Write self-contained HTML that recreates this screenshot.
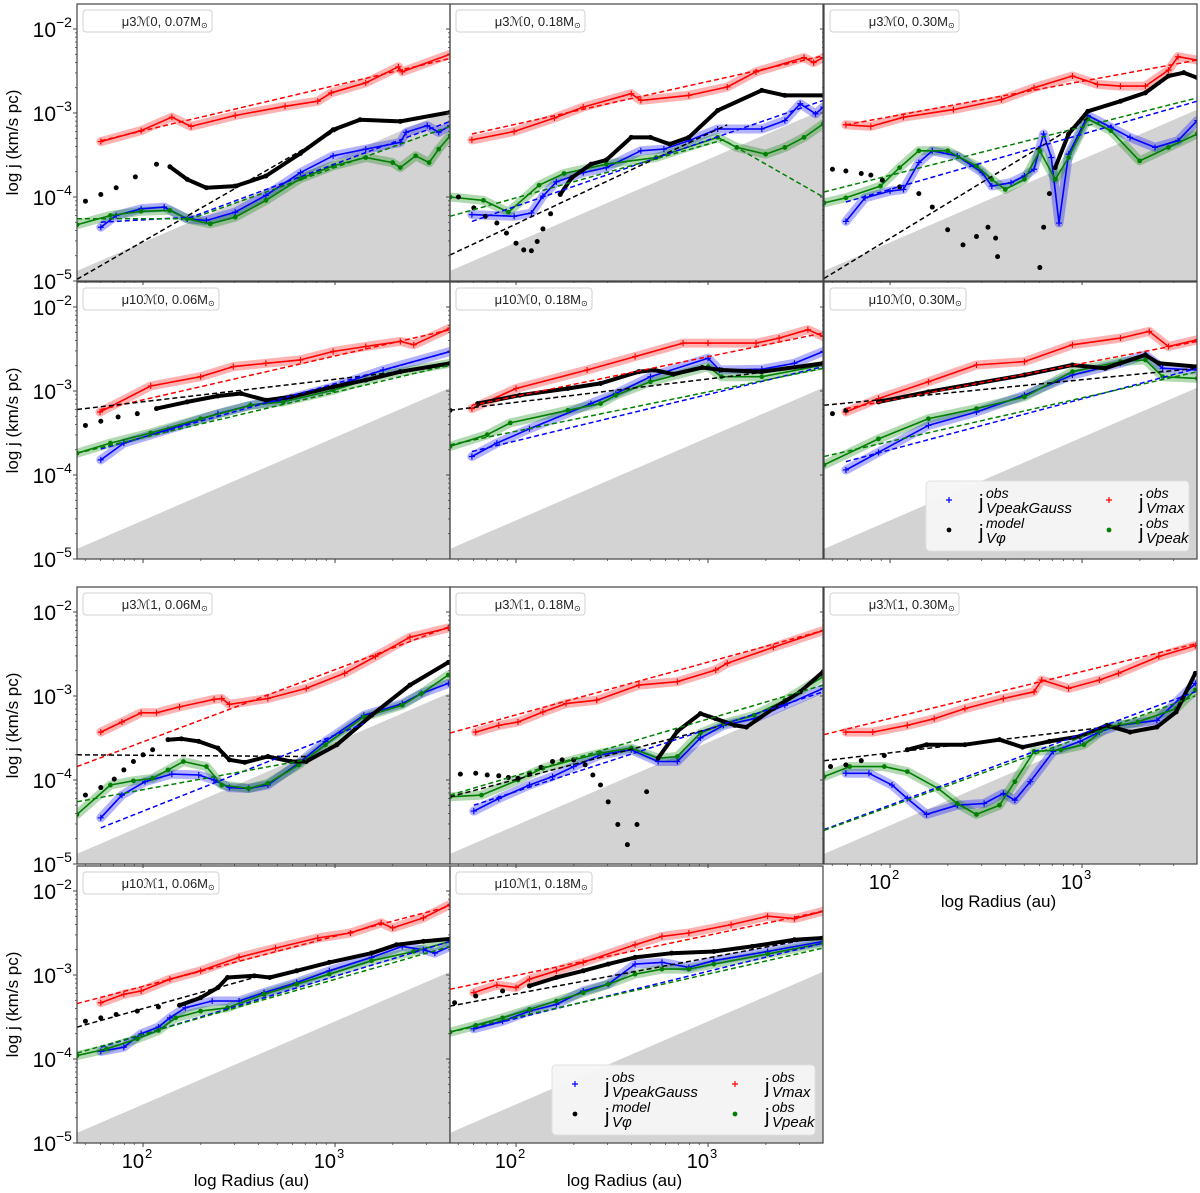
<!DOCTYPE html>
<html><head><meta charset="utf-8"><title>Specific angular momentum profiles</title>
<style>
html,body{margin:0;padding:0;background:#fff;}
svg{display:block;font-family:"Liberation Sans",sans-serif;}
</style></head>
<body>
<svg id="fig" width="1200" height="1193" viewBox="0 0 1200 1193" xmlns="http://www.w3.org/2000/svg"></svg>
<script>
// ---------- data (log10 radius [au], log10 j [km/s pc]) ----------
const grayR=[1.656,3.60];
const grayJ=[-4.88,-2.96];
const yTicks=[-5,-4,-3,-2];
const yTickLabels=["\u22125","\u22124","\u22123","\u22122"];
const xTicks=[2,3];
const xTickLabels=["2","3"];
const panelTitles=["\u03bc3\u21330, 0.07M","\u03bc3\u21330, 0.18M","\u03bc3\u21330, 0.30M","\u03bc10\u21330, 0.06M","\u03bc10\u21330, 0.18M","\u03bc10\u21330, 0.30M","\u03bc3\u21331, 0.06M","\u03bc3\u21331, 0.18M","\u03bc3\u21331, 0.30M","\u03bc10\u21331, 0.06M","\u03bc10\u21331, 0.18M"];

// panel 1
const p1RedR=[1.78,1.99,2.15,2.25,2.48,2.74,2.91,2.98,3.16,3.33,3.35,3.60];
const p1RedJ=[-3.34,-3.21,-3.05,-3.16,-3.03,-2.92,-2.86,-2.76,-2.64,-2.45,-2.51,-2.30];
const p1BlackR=[1.70,1.78,1.86,1.96,2.07,2.14,2.23,2.33,2.48,2.64,2.82,2.99,3.13,3.34,3.60];
const p1BlackJ=[-4.05,-3.97,-3.89,-3.76,-3.61,-3.64,-3.79,-3.89,-3.87,-3.75,-3.48,-3.20,-3.08,-3.10,-2.99];
const p1BlueR=[1.78,1.86,1.99,2.11,2.23,2.33,2.48,2.64,2.82,2.99,3.16,3.34,3.37,3.48,3.54,3.60];
const p1BlueJ=[-4.36,-4.22,-4.14,-4.12,-4.26,-4.28,-4.18,-3.98,-3.71,-3.51,-3.43,-3.35,-3.23,-3.15,-3.23,-3.15];
const p1GreenR=[1.656,1.83,1.99,2.14,2.23,2.35,2.48,2.64,2.82,2.99,3.16,3.30,3.34,3.42,3.49,3.54,3.60];
const p1GreenJ=[-4.33,-4.22,-4.17,-4.16,-4.26,-4.32,-4.24,-4.04,-3.78,-3.63,-3.53,-3.59,-3.65,-3.51,-3.59,-3.43,-3.27];
const p1FitRedR=[1.78,3.60], p1FitRedJ=[-3.33,-2.35];
const p1FitBlackR=[1.656,3.05], p1FitBlackJ=[-4.98,-3.15];
const p1FitBlueR=[1.78,2.25,3.60], p1FitBlueJ=[-4.30,-4.24,-3.10];
const p1FitGreenR=[1.656,2.25,3.60], p1FitGreenJ=[-4.26,-4.26,-3.16];

// panel 2
const p2RedR=[1.77,1.99,2.20,2.35,2.60,2.65,2.90,3.10,3.25,3.50,3.55,3.60];
const p2RedJ=[-3.32,-3.22,-3.06,-2.93,-2.77,-2.85,-2.79,-2.69,-2.51,-2.34,-2.40,-2.34];
const p2BlackR=[1.70,1.78,1.84,1.90,1.95,2.0,2.04,2.08,2.11,2.14,2.18,2.23,2.29,2.39,2.47,2.60,2.70,2.80,2.90,3.05,3.28,3.40,3.60];
const p2BlackJ=[-4.0,-4.13,-4.23,-4.31,-4.43,-4.55,-4.63,-4.64,-4.53,-4.38,-4.20,-3.97,-3.77,-3.61,-3.56,-3.29,-3.29,-3.37,-3.29,-2.97,-2.73,-2.79,-2.79];
const p2BlueR=[1.77,1.99,2.08,2.14,2.21,2.35,2.47,2.65,2.77,2.90,3.05,3.28,3.40,3.48,3.56,3.60];
const p2BlueJ=[-4.21,-4.23,-4.19,-3.99,-3.82,-3.71,-3.65,-3.45,-3.43,-3.33,-3.19,-3.19,-3.09,-2.89,-3.01,-2.93];
const p2GreenR=[1.656,1.83,1.96,2.12,2.25,2.47,2.73,3.05,3.15,3.30,3.40,3.50,3.60];
const p2GreenJ=[-4.0,-4.04,-4.18,-3.86,-3.72,-3.61,-3.53,-3.29,-3.41,-3.49,-3.41,-3.29,-3.13];
const p2FitRedR=[1.77,3.60], p2FitRedJ=[-3.25,-2.32];
const p2FitBlackR=[1.656,3.10], p2FitBlackJ=[-4.69,-3.14];
const p2FitBlueR=[1.77,3.60], p2FitBlueJ=[-4.29,-2.85];
const p2FitGreenR=[1.656,3.08,3.60], p2FitGreenJ=[-4.23,-3.32,-4.0];

// panel 3
const p3RedR=[1.77,1.90,2.07,2.33,2.58,2.75,2.95,3.08,3.20,3.33,3.45,3.50,3.60];
const p3RedJ=[-3.14,-3.16,-3.05,-2.96,-2.84,-2.70,-2.56,-2.66,-2.68,-2.68,-2.49,-2.33,-2.37];
const p3BlackR=[1.70,1.77,1.85,1.90,1.96,2.05,2.15,2.22,2.30,2.38,2.45,2.51,2.55,2.56,2.67,2.78,2.80,2.83,2.86,2.93,3.03,3.20,3.33,3.45,3.53,3.60];
const p3BlackJ=[-3.67,-3.69,-3.72,-3.74,-3.80,-3.88,-3.96,-4.12,-4.39,-4.57,-4.47,-4.36,-4.49,-4.71,null,-4.84,-4.36,-3.96,-3.65,-3.25,-2.98,-2.86,-2.76,-2.56,-2.52,-2.58];
const p3BlueR=[1.77,1.87,2.0,2.07,2.15,2.22,2.35,2.48,2.53,2.63,2.70,2.75,2.80,2.84,2.88,2.93,3.03,3.15,3.25,3.38,3.50,3.60];
const p3BlueJ=[-4.29,-4.01,-3.93,-3.91,-3.59,-3.45,-3.51,-3.71,-3.87,-3.83,-3.75,-3.67,-3.25,-3.53,-4.31,-3.49,-3.03,-3.17,-3.29,-3.41,-3.33,-3.09];
const p3GreenR=[1.656,1.77,1.95,2.05,2.15,2.30,2.45,2.53,2.60,2.70,2.78,2.86,2.93,3.03,3.15,3.30,3.45,3.60];
const p3GreenJ=[-4.07,-4.01,-3.87,-3.65,-3.45,-3.45,-3.63,-3.79,-3.91,-3.79,-3.45,-3.79,-3.53,-3.07,-3.21,-3.57,-3.41,-3.25];
const p3FitRedR=[1.77,3.60], p3FitRedJ=[-3.14,-2.37];
const p3FitBlackR=[1.656,3.03], p3FitBlackJ=[-4.97,-3.06];
const p3FitBlueR=[1.77,3.60], p3FitBlueJ=[-4.06,-2.86];
const p3FitGreenR=[1.656,3.60], p3FitGreenJ=[-3.94,-2.82];

// panel 4
const p4RedR=[1.776,2.04,2.30,2.47,2.64,2.82,2.99,3.16,3.34,3.41,3.60];
const p4RedJ=[-3.25,-2.94,-2.83,-2.71,-2.67,-2.63,-2.53,-2.47,-2.41,-2.45,-2.25];
const p4BlackR=[1.70,1.78,1.87,1.97,2.07,2.23,2.39,2.51,2.64,2.77,2.99,3.16,3.34,3.60];
const p4BlackJ=[-3.41,-3.36,-3.31,-3.27,-3.21,-3.13,-3.06,-3.03,-3.11,-3.07,-2.95,-2.87,-2.77,-2.67];
const p4BlueR=[1.78,1.90,2.13,2.39,2.56,2.73,2.99,3.25,3.60];
const p4BlueJ=[-3.82,-3.62,-3.46,-3.27,-3.17,-3.11,-2.95,-2.75,-2.53];
const p4GreenR=[1.656,1.83,2.04,2.30,2.56,2.73,2.99,3.25,3.60];
const p4GreenJ=[-3.74,-3.62,-3.50,-3.33,-3.17,-3.13,-2.99,-2.81,-2.67];
const p4FitRedR=[1.78,3.60], p4FitRedJ=[-3.22,-2.27];
const p4FitBlackR=[1.656,3.60], p4FitBlackJ=[-3.22,-2.70];
const p4FitBlueR=[1.78,3.60], p4FitBlueJ=[-3.69,-2.53];
const p4FitGreenR=[1.656,3.60], p4FitGreenJ=[-3.74,-2.69];

// panel 5
const p5RedR=[1.77,2.0,2.37,2.62,2.87,3.0,3.25,3.37,3.52,3.60];
const p5RedJ=[-3.21,-2.97,-2.75,-2.59,-2.43,-2.43,-2.43,-2.37,-2.27,-2.35];
const p5BlackR=[1.656,1.80,2.02,2.27,2.44,2.64,2.72,2.82,2.97,3.07,3.28,3.60];
const p5BlackJ=[-3.23,-3.15,-3.05,-2.97,-2.91,-2.77,-2.75,-2.80,-2.72,-2.75,-2.77,-2.67];
const p5BlueR=[1.77,1.90,2.07,2.39,2.52,2.70,3.0,3.06,3.28,3.45,3.60];
const p5BlueJ=[-3.78,-3.62,-3.45,-3.15,-3.03,-2.83,-2.61,-2.75,-2.74,-2.67,-2.53];
const p5GreenR=[1.656,1.85,1.97,2.27,2.44,2.52,2.70,3.0,3.07,3.28,3.60];
const p5GreenJ=[-3.66,-3.52,-3.38,-3.23,-3.15,-3.05,-2.89,-2.71,-2.83,-2.83,-2.69];
const p5FitRedR=[1.77,3.60], p5FitRedJ=[-3.17,-2.31];
const p5FitBlackR=[1.656,3.60], p5FitBlackJ=[-3.23,-2.69];
const p5FitBlueR=[1.77,3.60], p5FitBlueJ=[-3.72,-2.71];
const p5FitGreenR=[1.656,3.60], p5FitGreenJ=[-3.64,-2.73];

// panel 6
const p6RedR=[1.77,1.94,2.20,2.45,2.70,2.95,3.20,3.35,3.45,3.60];
const p6RedJ=[-3.25,-3.09,-2.89,-2.69,-2.65,-2.45,-2.37,-2.29,-2.47,-2.39];
const p6BlackR=[1.70,1.77,1.94,2.20,2.45,2.70,2.95,3.12,3.33,3.40,3.60];
const p6BlackJ=[-3.27,-3.23,-3.13,-3.01,-2.91,-2.81,-2.69,-2.73,-2.57,-2.67,-2.71];
const p6BlueR=[1.77,1.94,2.20,2.45,2.70,2.95,3.20,3.33,3.42,3.60];
const p6BlueJ=[-3.94,-3.73,-3.41,-3.25,-3.05,-2.81,-2.67,-2.57,-2.73,-2.75];
const p6GreenR=[1.656,1.94,2.20,2.45,2.70,2.95,3.20,3.33,3.42,3.60];
const p6GreenJ=[-3.88,-3.57,-3.33,-3.21,-3.07,-2.77,-2.65,-2.63,-2.83,-2.85];
const p6FitRedR=[1.77,3.60], p6FitRedJ=[-3.21,-2.41];
const p6FitBlackR=[1.656,3.60], p6FitBlackJ=[-3.17,-2.73];
const p6FitBlueR=[1.77,3.60], p6FitBlueJ=[-3.84,-2.73];
const p6FitGreenR=[1.656,3.60], p6FitGreenJ=[-3.78,-2.77];

// panel 7
const p7RedR=[1.78,1.89,1.99,2.07,2.19,2.37,2.41,2.45,2.65,2.85,3.05,3.21,3.39,3.59];
const p7RedJ=[-3.43,-3.31,-3.20,-3.20,-3.13,-3.04,-3.03,-3.10,-3.03,-2.91,-2.73,-2.53,-2.30,-2.19];
const p7BlackR=[1.70,1.78,1.85,1.90,1.95,2.0,2.05,2.13,2.20,2.29,2.39,2.45,2.53,2.65,2.77,2.85,3.01,3.19,3.39,3.59];
const p7BlackJ=[-4.18,-4.09,-3.99,-3.88,-3.78,-3.70,-3.64,-3.52,-3.51,-3.54,-3.62,-3.76,-3.79,-3.72,-3.78,-3.78,-3.58,-3.23,-2.87,-2.60];
const p7BlueR=[1.78,1.89,2.01,2.15,2.29,2.37,2.45,2.55,2.65,2.81,2.95,3.15,3.35,3.45,3.59];
const p7BlueJ=[-4.45,-4.18,-4.02,-3.93,-3.94,-4.0,-4.09,-4.10,-4.06,-3.80,-3.54,-3.23,-3.09,-2.97,-2.85];
const p7GreenR=[1.656,1.83,1.95,2.05,2.13,2.21,2.33,2.41,2.55,2.65,2.81,2.95,3.15,3.35,3.45,3.59];
const p7GreenJ=[-4.41,-4.06,-4.01,-3.98,-3.88,-3.78,-3.84,-4.06,-4.10,-4.04,-3.82,-3.58,-3.25,-3.11,-2.97,-2.75];
const p7FitRedR=[1.656,3.59], p7FitRedJ=[-3.84,-2.18];
const p7FitBlackR=[1.656,2.85], p7FitBlackJ=[-3.70,-3.72];
const p7FitBlueR=[1.78,3.15], p7FitBlueJ=[-4.57,-3.33];
const p7FitGreenR=[1.656,2.85], p7FitGreenJ=[-4.26,-3.76];

// panel 8
const p8RedR=[1.79,1.91,2.01,2.14,2.26,2.42,2.64,2.84,3.04,3.10,3.34,3.60];
const p8RedJ=[-3.43,-3.35,-3.31,-3.19,-3.09,-3.05,-2.87,-2.83,-2.69,-2.61,-2.42,-2.22];
const p8BlackR=[1.71,1.79,1.85,1.91,1.96,2.01,2.07,2.13,2.19,2.24,2.30,2.36,2.40,2.44,2.48,2.53,2.58,2.63,2.68,2.74,2.84,2.96,3.04,3.14,3.20,3.34,3.48,3.60];
const p8BlackJ=[-3.93,-3.92,-3.94,-3.95,-3.97,-3.98,-3.92,-3.85,-3.78,-3.76,-3.76,-3.82,-3.94,-4.06,-4.26,-4.53,-4.77,-4.53,-4.14,-3.74,-3.42,-3.21,-3.27,-3.35,-3.37,-3.15,-2.95,-2.71];
const p8BlueR=[1.78,1.91,2.07,2.19,2.30,2.44,2.60,2.74,2.84,2.96,3.08,3.24,3.40,3.60];
const p8BlueJ=[-4.37,-4.22,-4.06,-3.96,-3.84,-3.70,-3.64,-3.78,-3.78,-3.50,-3.35,-3.27,-3.11,-2.91];
const p8GreenR=[1.656,1.82,2.01,2.14,2.30,2.44,2.60,2.74,2.84,2.96,3.08,3.24,3.40,3.60];
const p8GreenJ=[-4.20,-4.18,-4.0,-3.86,-3.76,-3.68,-3.62,-3.74,-3.72,-3.44,-3.33,-3.23,-3.05,-2.77];
const p8FitRedR=[1.656,3.60], p8FitRedJ=[-3.44,-2.22];
const p8FitBlackR=[1.656,3.04], p8FitBlackJ=[-4.20,-3.37];
const p8FitBlueR=[1.78,3.60], p8FitBlueJ=[-4.30,-2.95];
const p8FitGreenR=[1.656,3.60], p8FitGreenJ=[-4.18,-2.87];

// panel 9
const p9RedR=[1.77,1.91,2.09,2.23,2.39,2.59,2.75,2.79,2.93,3.09,3.19,3.40,3.59];
const p9RedJ=[-3.43,-3.43,-3.35,-3.27,-3.15,-3.03,-2.95,-2.81,-2.91,-2.81,-2.73,-2.53,-2.40];
const p9BlackR=[1.69,1.77,1.85,1.97,2.09,2.19,2.39,2.57,2.69,2.83,2.99,3.13,3.25,3.39,3.49,3.59];
const p9BlackJ=[-3.84,-3.82,-3.77,-3.71,-3.64,-3.58,-3.58,-3.52,-3.61,-3.54,-3.48,-3.35,-3.43,-3.37,-3.19,-2.73];
const p9BlueR=[1.77,1.89,2.01,2.09,2.19,2.35,2.49,2.59,2.65,2.73,2.85,2.99,3.09,3.19,3.39,3.59];
const p9BlueJ=[-3.92,-3.92,-4.06,-4.22,-4.41,-4.30,-4.28,-4.16,-4.24,-4.02,-3.66,-3.54,-3.43,-3.35,-3.29,-2.85];
const p9GreenR=[1.656,1.79,1.97,2.09,2.25,2.35,2.45,2.57,2.65,2.75,2.89,3.01,3.13,3.29,3.49,3.59];
const p9GreenJ=[-3.96,-3.84,-3.84,-3.90,-4.10,-4.28,-4.41,-4.30,-4.02,-3.66,-3.64,-3.58,-3.37,-3.31,-3.15,-2.93];
const p9FitRedR=[1.656,3.59], p9FitRedJ=[-3.46,-2.38];
const p9FitBlackR=[1.656,3.20], p9FitBlackJ=[-3.77,-3.35];
const p9FitBlueR=[1.656,3.59], p9FitBlueJ=[-4.59,-2.95];
const p9FitGreenR=[1.656,3.59], p9FitGreenJ=[-4.60,-3.0];

// panel 10
const p10RedR=[1.78,1.90,1.99,2.14,2.30,2.50,2.69,2.91,3.08,3.24,3.30,3.46,3.60];
const p10RedJ=[-3.33,-3.23,-3.19,-3.05,-2.95,-2.79,-2.68,-2.56,-2.50,-2.38,-2.44,-2.32,-2.16];
const p10BlackR=[1.70,1.78,1.86,1.97,2.08,2.19,2.30,2.39,2.44,2.58,2.66,2.80,2.97,3.19,3.32,3.46,3.60];
const p10BlackJ=[-3.55,-3.51,-3.47,-3.43,-3.38,-3.36,-3.27,-3.15,-3.03,-3.01,-3.03,-2.95,-2.85,-2.74,-2.64,-2.60,-2.57];
const p10BlueR=[1.78,1.90,1.99,2.08,2.14,2.22,2.36,2.50,2.63,2.80,2.97,3.19,3.35,3.46,3.52,3.60];
const p10BlueJ=[-3.91,-3.86,-3.70,-3.62,-3.51,-3.39,-3.31,-3.31,-3.21,-3.09,-2.95,-2.79,-2.66,-2.70,-2.74,-2.66];
const p10GreenR=[1.656,1.81,1.97,2.08,2.17,2.30,2.44,2.63,2.80,2.97,3.19,3.41,3.60];
const p10GreenJ=[-3.96,-3.88,-3.76,-3.66,-3.51,-3.43,-3.39,-3.23,-3.11,-2.99,-2.83,-2.72,-2.60];
const p10FitRedR=[1.656,3.60], p10FitRedJ=[-3.34,-2.18];
const p10FitBlackR=[1.656,2.58], p10FitBlackJ=[-3.62,-3.03];
const p10FitBlueR=[1.78,3.60], p10FitBlueJ=[-3.86,-2.60];
const p10FitGreenR=[1.656,3.60], p10FitGreenJ=[-3.93,-2.66];

// panel 11
const p11RedR=[1.78,1.90,2.0,2.07,2.21,2.35,2.62,2.76,2.90,3.12,3.31,3.45,3.60];
const p11RedJ=[-3.21,-3.12,-3.15,-3.05,-2.95,-2.85,-2.64,-2.54,-2.50,-2.40,-2.30,-2.33,-2.24];
const p11BlackR=[1.68,1.79,1.93,2.07,2.21,2.35,2.48,2.62,2.81,3.03,3.23,3.45,3.60];
const p11BlackJ=[-3.33,-3.25,-3.19,-3.13,-3.03,-2.95,-2.87,-2.79,-2.74,-2.72,-2.66,-2.58,-2.56];
const p11BlueR=[1.78,1.93,2.07,2.21,2.35,2.48,2.62,2.76,2.90,3.03,3.31,3.60];
const p11BlueJ=[-3.64,-3.55,-3.43,-3.35,-3.19,-3.11,-2.87,-2.85,-2.91,-2.83,-2.72,-2.60];
const p11GreenR=[1.656,1.79,1.93,2.07,2.21,2.35,2.48,2.62,2.76,2.90,3.03,3.31,3.60];
const p11GreenJ=[-3.68,-3.60,-3.51,-3.41,-3.31,-3.21,-3.11,-2.99,-2.93,-2.93,-2.87,-2.75,-2.62];
const p11FitRedR=[1.656,3.60], p11FitRedJ=[-3.17,-2.24];
const p11FitBlackR=[1.656,3.60], p11FitBlackJ=[-3.37,-2.54];
const p11FitBlueR=[1.78,3.60], p11FitBlueJ=[-3.64,-2.62];
const p11FitGreenR=[1.656,3.60], p11FitGreenJ=[-3.68,-2.68];

// ---------- layout ----------
const COLX=[77,450,824], ROWB=[281,559,864,1143], PH=277, PW=373;
const LRMIN=1.656, DEC_X=192, DEC_Y=84;
const panels=[
 {c:0,r:0,s:[p1RedR,p1RedJ,p1BlackR,p1BlackJ,p1BlueR,p1BlueJ,p1GreenR,p1GreenJ],f:[p1FitRedR,p1FitRedJ,p1FitBlackR,p1FitBlackJ,p1FitBlueR,p1FitBlueJ,p1FitGreenR,p1FitGreenJ],th:2.14,tw:129},
 {c:1,r:0,s:[p2RedR,p2RedJ,p2BlackR,p2BlackJ,p2BlueR,p2BlueJ,p2GreenR,p2GreenJ],f:[p2FitRedR,p2FitRedJ,p2FitBlackR,p2FitBlackJ,p2FitBlueR,p2FitBlueJ,p2FitGreenR,p2FitGreenJ],th:2.23,tw:129},
 {c:2,r:0,s:[p3RedR,p3RedJ,p3BlackR,p3BlackJ,p3BlueR,p3BlueJ,p3GreenR,p3GreenJ],f:[p3FitRedR,p3FitRedJ,p3FitBlackR,p3FitBlackJ,p3FitBlueR,p3FitBlueJ,p3FitGreenR,p3FitGreenJ],th:2.85,tw:129},
 {c:0,r:1,s:[p4RedR,p4RedJ,p4BlackR,p4BlackJ,p4BlueR,p4BlueJ,p4GreenR,p4GreenJ],f:[p4FitRedR,p4FitRedJ,p4FitBlackR,p4FitBlackJ,p4FitBlueR,p4FitBlueJ,p4FitGreenR,p4FitGreenJ],th:2.07,tw:136},
 {c:1,r:1,s:[p5RedR,p5RedJ,p5BlackR,p5BlackJ,p5BlueR,p5BlueJ,p5GreenR,p5GreenJ],f:[p5FitRedR,p5FitRedJ,p5FitBlackR,p5FitBlackJ,p5FitBlueR,p5FitBlueJ,p5FitGreenR,p5FitGreenJ],th:1.8,tw:136},
 {c:2,r:1,s:[p6RedR,p6RedJ,p6BlackR,p6BlackJ,p6BlueR,p6BlueJ,p6GreenR,p6GreenJ],f:[p6FitRedR,p6FitRedJ,p6FitBlackR,p6FitBlackJ,p6FitBlueR,p6FitBlueJ,p6FitGreenR,p6FitGreenJ],th:1.94,tw:136,legend:true},
 {c:0,r:2,s:[p7RedR,p7RedJ,p7BlackR,p7BlackJ,p7BlueR,p7BlueJ,p7GreenR,p7GreenJ],f:[p7FitRedR,p7FitRedJ,p7FitBlackR,p7FitBlackJ,p7FitBlueR,p7FitBlueJ,p7FitGreenR,p7FitGreenJ],th:2.13,tw:129},
 {c:1,r:2,s:[p8RedR,p8RedJ,p8BlackR,p8BlackJ,p8BlueR,p8BlueJ,p8GreenR,p8GreenJ],f:[p8FitRedR,p8FitRedJ,p8FitBlackR,p8FitBlackJ,p8FitBlueR,p8FitBlueJ,p8FitGreenR,p8FitGreenJ],th:2.74,tw:129},
 {c:2,r:2,s:[p9RedR,p9RedJ,p9BlackR,p9BlackJ,p9BlueR,p9BlueJ,p9GreenR,p9GreenJ],f:[p9FitRedR,p9FitRedJ,p9FitBlackR,p9FitBlackJ,p9FitBlueR,p9FitBlueJ,p9FitGreenR,p9FitGreenJ],th:2.09,tw:129,xlab:true},
 {c:0,r:3,s:[p10RedR,p10RedJ,p10BlackR,p10BlackJ,p10BlueR,p10BlueJ,p10GreenR,p10GreenJ],f:[p10FitRedR,p10FitRedJ,p10FitBlackR,p10FitBlackJ,p10FitBlueR,p10FitBlueJ,p10FitGreenR,p10FitGreenJ],th:2.19,tw:136,xlab:true},
 {c:1,r:3,s:[p11RedR,p11RedJ,p11BlackR,p11BlackJ,p11BlueR,p11BlueJ,p11GreenR,p11GreenJ],f:[p11FitRedR,p11FitRedJ,p11FitBlackR,p11FitBlackJ,p11FitBlueR,p11FitBlueJ,p11FitGreenR,p11FitGreenJ],th:2.07,tw:136,xlab:true,legend:true}
];

const NS="http://www.w3.org/2000/svg";
const svg=document.getElementById('fig');
function mk(tag,attrs,parent){const e=document.createElementNS(NS,tag);for(const k in attrs)e.setAttribute(k,attrs[k]);(parent||svg).appendChild(e);return e;}
function X(p,lr){return COLX[p.c]+(lr-LRMIN)*DEC_X;}
function Y(p,lj){return ROWB[p.r]-(lj+5)*DEC_Y;}
function pathD(p,R,J,minR){let d='',pen=false;for(let i=0;i<R.length;i++){if(J[i]===null||(minR!==undefined&&R[i]<minR)){pen=false;continue;}d+=(pen?'L':'M')+X(p,R[i]).toFixed(1)+','+Y(p,J[i]).toFixed(1);pen=true;}return d;}

const COL={red:'#ff0000',blue:'#0000ff',green:'#008000',black:'#000000'};
const BAND={red:'rgba(255,0,0,0.3)',blue:'rgba(0,0,255,0.3)',green:'rgba(0,128,0,0.3)'};

panels.forEach((p,idx)=>{
  const x0=COLX[p.c], yb=ROWB[p.r], yt=yb-PH;
  const g=mk('g',{});
  
  
  const cp=mk('clipPath',{id:'cp'+idx},g);
  mk('rect',{x:x0,y:yt,width:PW,height:PH},cp);
  const inner=mk('g',{'clip-path':'url(#cp'+idx+')'},g);
  const gr=mk('polygon',{points:`${X(p,grayR[0])},${yb} ${X(p,grayR[0])},${Y(p,grayJ[0])} ${X(p,grayR[1])},${Y(p,grayJ[1])} ${X(p,grayR[1])},${yb}`,fill:'#d3d3d3'},inner);
  
  
  const [rR,rJ,kR,kJ,bR,bJ,gR,gJ]=p.s;
  const order=[['red',rR,rJ],['blue',bR,bJ],['green',gR,gJ]];
  order.forEach(([c,R,J])=>{
    const b=mk('path',{d:pathD(p,R,J),fill:'none',stroke:BAND[c],'stroke-width':9,'stroke-linejoin':'round','stroke-linecap':'round'},inner);
    
    
  });
  order.forEach(([c,R,J])=>{
    const l=mk('path',{d:pathD(p,R,J),fill:'none',stroke:COL[c],'stroke-width':1.6,'stroke-linejoin':'round'},inner);
    
    
    for(let i=0;i<R.length;i++){
      const cx=X(p,R[i]),cy=Y(p,J[i]);
      if(c==='green'){
        const m=mk('circle',{cx:cx,cy:cy,r:2.4,fill:COL[c]},inner);
        
        
      }else{
        const m=mk('path',{d:`M${cx-3},${cy}h6M${cx},${cy-3}v6`,stroke:COL[c],'stroke-width':1.2},inner);
        
        
      }
    }
  });
  const bl=mk('path',{d:pathD(p,kR,kJ,p.th),fill:'none',stroke:'#000','stroke-width':4,'stroke-linejoin':'round'},inner);
  
  
  for(let i=0;i<kR.length;i++){
    if(kJ[i]===null)continue;
    const d=mk('circle',{cx:X(p,kR[i]),cy:Y(p,kJ[i]),r:2.5,fill:'#000'},inner);
    
    
  }
  const [fRr,fRj,fKr,fKj,fBr,fBj,fGr,fGj]=p.f;
  [['red',fRr,fRj],['black',fKr,fKj],['blue',fBr,fBj],['green',fGr,fGj]].forEach(([c,R,J])=>{
    const f=mk('path',{d:pathD(p,R,J),fill:'none',stroke:COL[c],'stroke-width':1.5,'stroke-dasharray':'5,3'},inner);
    
    
  });
  const fr=mk('rect',{x:x0,y:yt,width:PW,height:PH,fill:'none',stroke:'#444','stroke-width':1.2},g);
  
  
  for(let dcd=-5;dcd<=-2;dcd++){
    const yy=Y(p,dcd);
    const t=mk('line',{x1:x0-4,x2:x0,y1:yy,y2:yy,stroke:'#444','stroke-width':1},g);
    
    
    for(let k=2;k<=9;k++){
      const lj=dcd+Math.log10(k); if(lj>-5+PH/DEC_Y)continue;
      const ym=Y(p,lj);
      const m=mk('line',{x1:x0-2,x2:x0,y1:ym,y2:ym,stroke:'#444','stroke-width':0.8},g);
      
      
    }
  }
  for(let dcd=1;dcd<=3;dcd++){
    for(let k=1;k<=9;k++){
      const lr=dcd+Math.log10(k); if(lr<LRMIN||lr>LRMIN+PW/DEC_X)continue;
      const xx=X(p,lr); const len=k===1?4:2;
      const t=mk('line',{x1:xx,x2:xx,y1:yb,y2:yb+len,stroke:'#444','stroke-width':k===1?1:0.8},g);
      
      
    }
  }
  if(p.c===0){
    yTicks.forEach((v,i)=>{
      const tx=mk('text',{x:x0-21,y:Y(p,v)+8,'text-anchor':'end','font-size':21,fill:'#000'},g);
      tx.textContent='10';
      
      
      const ex=mk('text',{x:x0-21,y:Y(p,v)-2,'font-size':14,fill:'#000'},g);
      ex.textContent=yTickLabels[i];
      
      
    });
    const yl=mk('text',{x:0,y:0,transform:`translate(18,${yb-PH/2}) rotate(-90)`,'text-anchor':'middle','font-size':17,fill:'#000'},g);
    yl.textContent='log j (km/s pc)';
    
    
  }
  if(p.xlab){
    xTicks.forEach((v,i)=>{
      const xx=X(p,v);
      const tx=mk('text',{x:xx+1,y:yb+25,'text-anchor':'end','font-size':20,fill:'#000'},g);
      tx.textContent='10';
      
      
      const ex=mk('text',{x:xx+2,y:yb+15,'font-size':13,fill:'#000'},g);
      ex.textContent=xTickLabels[i];
      
      
    });
    const xl=mk('text',{x:x0+PW/2-12,y:yb+43,'text-anchor':'middle','font-size':17,fill:'#000'},g);
    xl.textContent='log Radius (au)';
    
    
  }
  const tb=mk('rect',{x:x0+6,y:yt+6,width:p.tw,height:22,rx:3,fill:'#fff','fill-opacity':0.85,stroke:'#d0d0d0','stroke-width':1},g);
  
  
  const tt=mk('text',{x:x0+p.tw-5,y:yt+22,'text-anchor':'end','font-size':13,fill:'#222'},g);
  tt.textContent=panelTitles[idx];
  
  
  const sun=mk('text',{x:x0+p.tw-5,y:yt+24,'font-size':8,fill:'#222'},g);
  sun.textContent='\u2299';
  
  
  if(p.legend){
    const lx=x0+102, ly=yb-78;
    const lg=mk('g',{},g);
    
    
    const lb=mk('rect',{x:lx,y:ly,width:263,height:70,rx:4,fill:'#f5f5f5','fill-opacity':0.95,stroke:'#e0e0e0'},lg);
    
    
    const entries=[[lx+23,ly+19,'blue','obs','VpeakGauss','plus'],[lx+183,ly+19,'red','obs','Vmax','plus'],[lx+23,ly+49,'black','model','V\u03c6','dot'],[lx+183,ly+49,'green','obs','Vpeak','dot']];
    entries.forEach(([mx,my,c,sup,sub,shape])=>{
      const e=mk('g',{},lg);
      
      
      if(shape==='plus'){mk('path',{d:`M${mx-3},${my}h6M${mx},${my-3}v6`,stroke:COL[c],'stroke-width':1.2},e);}
      else{mk('circle',{cx:mx,cy:my,r:2.4,fill:COL[c]},e);}
      const j=mk('text',{x:mx+30,y:my+9,'font-size':20,fill:'#000'},e);
      j.textContent='j';
      const su=mk('text',{x:mx+37,y:my-2,'font-size':14,'font-style':'italic',fill:'#000'},e);
      su.textContent=sup;
      const sb=mk('text',{x:mx+37,y:my+13,'font-size':15,'font-style':'italic',fill:'#000'},e);
      sb.textContent=sub;
    });
  }
});
</script>
</body></html>
